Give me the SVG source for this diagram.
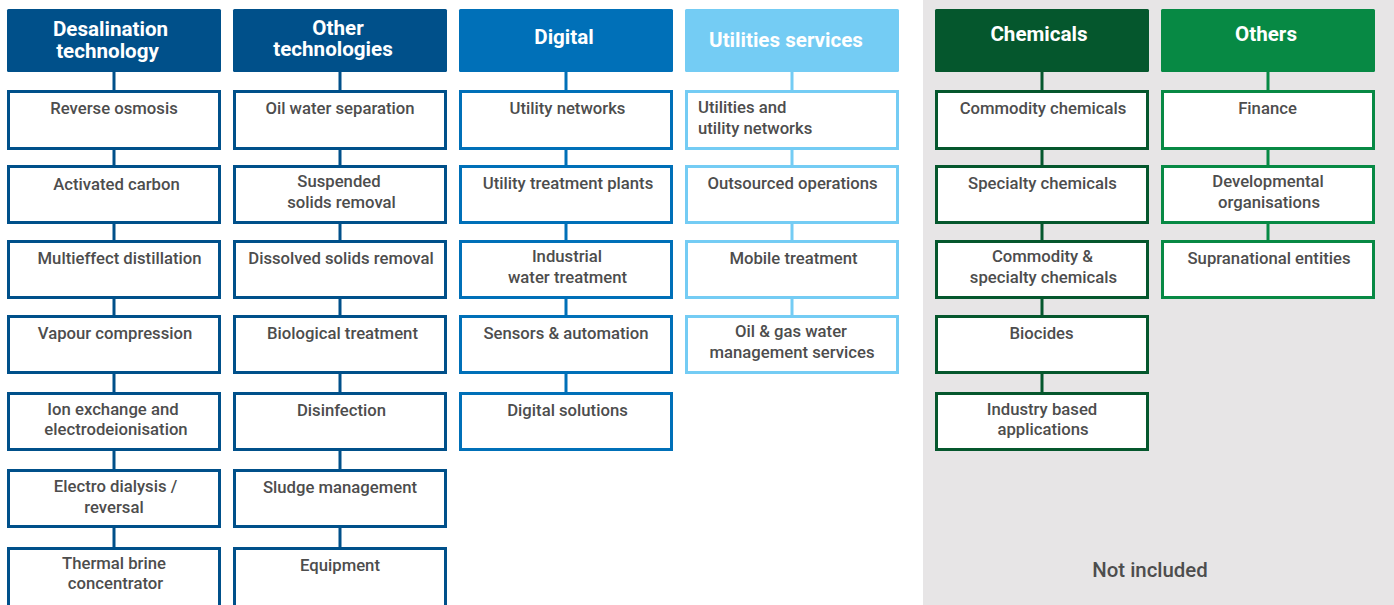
<svg xmlns="http://www.w3.org/2000/svg" width="1394" height="605" viewBox="0 0 1394 605">
  <style>
    .hd { font-family: Roboto, "Liberation Sans", sans-serif; font-weight: 700; font-size: 20.6px; fill: #ffffff; text-anchor: middle; }
    .lb { font-family: Roboto, "Liberation Sans", sans-serif; font-weight: 500; font-size: 16.7px; fill: #4d4d4d; text-anchor: middle; }
    .note { font-family: Roboto, "Liberation Sans", sans-serif; font-weight: 500; font-size: 20.4px; fill: #4d4d4d; text-anchor: middle; }
    .box { fill: #ffffff; stroke-width: 3; }
    .c1 { stroke: #00508a; }
    .c3 { stroke: #0070b8; }
    .c4 { stroke: #74ccf4; }
    .c5 { stroke: #05572d; }
    .c6 { stroke: #078944; }
    .ln { stroke-width: 3; fill: none; }
  </style>

  <!-- excluded area -->
  <rect x="923" y="0" width="471" height="605" fill="#e7e5e6"/>

  <!-- connectors -->
  <g id="connectors">
    <path class="ln c1" d="M114 71V90M114 150V165M114 224V240M114 299V315M114 374V392M114 451V469M114 528V547"/>
    <path class="ln c1" d="M340 71V90M340 150V165M340 224V240M340 299V315M340 374V392M340 451V469M340 528V547"/>
    <path class="ln c3" d="M566 71V90M566 150V165M566 224V240M566 299V315M566 374V392"/>
    <path class="ln c4" d="M792 71V90M792 150V165M792 224V240M792 299V315"/>
    <path class="ln c5" d="M1042 71V90M1042 150V165M1042 224V240M1042 299V315M1042 374V392"/>
    <path class="ln c6" d="M1268 71V90M1268 150V165M1268 224V240"/>
  </g>

  <!-- headers -->
  <g id="h-desalination">
    <rect x="7" y="9" width="214" height="63" rx="1.5" fill="#00508a"/>
    <text class="hd"><tspan x="110.5" y="36">Desalination</tspan><tspan x="107.5" y="58">technology</tspan></text>
  </g>
  <g id="h-other-tech">
    <rect x="233" y="9" width="214" height="63" rx="1.5" fill="#00508a"/>
    <text class="hd"><tspan x="338" y="34.5">Other</tspan><tspan x="333" y="56">technologies</tspan></text>
  </g>
  <g id="h-digital">
    <rect x="459" y="9" width="214" height="63" rx="1.5" fill="#0070b8"/>
    <text class="hd" x="564" y="44">Digital</text>
  </g>
  <g id="h-utilities">
    <rect x="685" y="9" width="214" height="63" rx="1.5" fill="#74ccf4"/>
    <text class="hd" x="786" y="47">Utilities services</text>
  </g>
  <g id="h-chemicals">
    <rect x="935" y="9" width="214" height="63" rx="1.5" fill="#05572d"/>
    <text class="hd" x="1039" y="41">Chemicals</text>
  </g>
  <g id="h-others">
    <rect x="1161" y="9" width="214" height="63" rx="1.5" fill="#078944"/>
    <text class="hd" x="1266" y="41">Others</text>
  </g>

  <!-- desalination technology -->
  <g id="reverse-osmosis"><rect class="box c1" x="8.5" y="91.5" width="211" height="57"/><text class="lb" x="114" y="114">Reverse osmosis</text></g>
  <g id="activated-carbon"><rect class="box c1" x="8.5" y="166.5" width="211" height="56"/><text class="lb" x="116.5" y="190">Activated carbon</text></g>
  <g id="multieffect"><rect class="box c1" x="8.5" y="241.5" width="211" height="56"/><text class="lb" x="119.5" y="264">Multieffect distillation</text></g>
  <g id="vapour"><rect class="box c1" x="8.5" y="316.5" width="211" height="56"/><text class="lb" x="115" y="339">Vapour compression</text></g>
  <g id="ion-exchange"><rect class="box c1" x="8.5" y="393.5" width="211" height="56"/><text class="lb"><tspan x="113" y="415">Ion exchange and</tspan><tspan x="116" y="435">electrodeionisation</tspan></text></g>
  <g id="electro-dialysis"><rect class="box c1" x="8.5" y="470.5" width="211" height="56"/><text class="lb"><tspan x="115.5" y="492">Electro dialysis /</tspan><tspan x="114" y="513">reversal</tspan></text></g>
  <g id="thermal-brine"><rect class="box c1" x="8.5" y="548.5" width="211" height="60"/><text class="lb"><tspan x="114" y="569">Thermal brine</tspan><tspan x="115.5" y="589">concentrator</tspan></text></g>

  <!-- other technologies -->
  <g id="oil-water"><rect class="box c1" x="234.5" y="91.5" width="211" height="57"/><text class="lb" x="340" y="114">Oil water separation</text></g>
  <g id="suspended"><rect class="box c1" x="234.5" y="166.5" width="211" height="56"/><text class="lb"><tspan x="339" y="187">Suspended</tspan><tspan x="341.5" y="208">solids removal</tspan></text></g>
  <g id="dissolved"><rect class="box c1" x="234.5" y="241.5" width="211" height="56"/><text class="lb" x="341" y="264">Dissolved solids removal</text></g>
  <g id="biological"><rect class="box c1" x="234.5" y="316.5" width="211" height="56"/><text class="lb" x="342.5" y="339">Biological treatment</text></g>
  <g id="disinfection"><rect class="box c1" x="234.5" y="393.5" width="211" height="56"/><text class="lb" x="341.5" y="416">Disinfection</text></g>
  <g id="sludge"><rect class="box c1" x="234.5" y="470.5" width="211" height="56"/><text class="lb" x="340" y="493">Sludge management</text></g>
  <g id="equipment"><rect class="box c1" x="234.5" y="548.5" width="211" height="60"/><text class="lb" x="340" y="571">Equipment</text></g>

  <!-- digital -->
  <g id="utility-networks"><rect class="box c3" x="460.5" y="91.5" width="211" height="57"/><text class="lb" x="567.5" y="114">Utility networks</text></g>
  <g id="utility-plants"><rect class="box c3" x="460.5" y="166.5" width="211" height="56"/><text class="lb" x="568" y="189">Utility treatment plants</text></g>
  <g id="industrial"><rect class="box c3" x="460.5" y="241.5" width="211" height="56"/><text class="lb"><tspan x="567" y="262">Industrial</tspan><tspan x="567.5" y="283">water treatment</tspan></text></g>
  <g id="sensors"><rect class="box c3" x="460.5" y="316.5" width="211" height="56"/><text class="lb" x="566" y="339">Sensors &amp; automation</text></g>
  <g id="digital-solutions"><rect class="box c3" x="460.5" y="393.5" width="211" height="56"/><text class="lb" x="567.5" y="416">Digital solutions</text></g>

  <!-- utilities services -->
  <g id="utilities-networks"><rect class="box c4" x="686.5" y="91.5" width="211" height="57"/><text class="lb" style="text-anchor:start"><tspan x="698" y="113">Utilities and</tspan><tspan x="698" y="134">utility networks</tspan></text></g>
  <g id="outsourced"><rect class="box c4" x="686.5" y="166.5" width="211" height="56"/><text class="lb" x="792.5" y="189">Outsourced operations</text></g>
  <g id="mobile"><rect class="box c4" x="686.5" y="241.5" width="211" height="56"/><text class="lb" x="793.5" y="264">Mobile treatment</text></g>
  <g id="oil-gas"><rect class="box c4" x="686.5" y="316.5" width="211" height="56"/><text class="lb"><tspan x="791" y="337">Oil &amp; gas water</tspan><tspan x="792" y="358">management services</tspan></text></g>

  <!-- chemicals -->
  <g id="commodity"><rect class="box c5" x="936.5" y="91.5" width="211" height="57"/><text class="lb" x="1043" y="114">Commodity chemicals</text></g>
  <g id="specialty"><rect class="box c5" x="936.5" y="166.5" width="211" height="56"/><text class="lb" x="1042.5" y="189">Specialty chemicals</text></g>
  <g id="commodity-specialty"><rect class="box c5" x="936.5" y="241.5" width="211" height="56"/><text class="lb"><tspan x="1042.5" y="262">Commodity &amp;</tspan><tspan x="1043.5" y="283">specialty chemicals</tspan></text></g>
  <g id="biocides"><rect class="box c5" x="936.5" y="316.5" width="211" height="56"/><text class="lb" x="1041.5" y="339">Biocides</text></g>
  <g id="industry-based"><rect class="box c5" x="936.5" y="393.5" width="211" height="56"/><text class="lb"><tspan x="1042" y="415">Industry based</tspan><tspan x="1043" y="435">applications</tspan></text></g>

  <!-- others -->
  <g id="finance"><rect class="box c6" x="1162.5" y="91.5" width="211" height="57"/><text class="lb" x="1267.5" y="114">Finance</text></g>
  <g id="developmental"><rect class="box c6" x="1162.5" y="166.5" width="211" height="56"/><text class="lb"><tspan x="1268" y="187">Developmental</tspan><tspan x="1269" y="208">organisations</tspan></text></g>
  <g id="supranational"><rect class="box c6" x="1162.5" y="241.5" width="211" height="56"/><text class="lb" x="1269" y="264">Supranational entities</text></g>

  <text class="note" x="1150" y="577">Not included</text>
</svg>
